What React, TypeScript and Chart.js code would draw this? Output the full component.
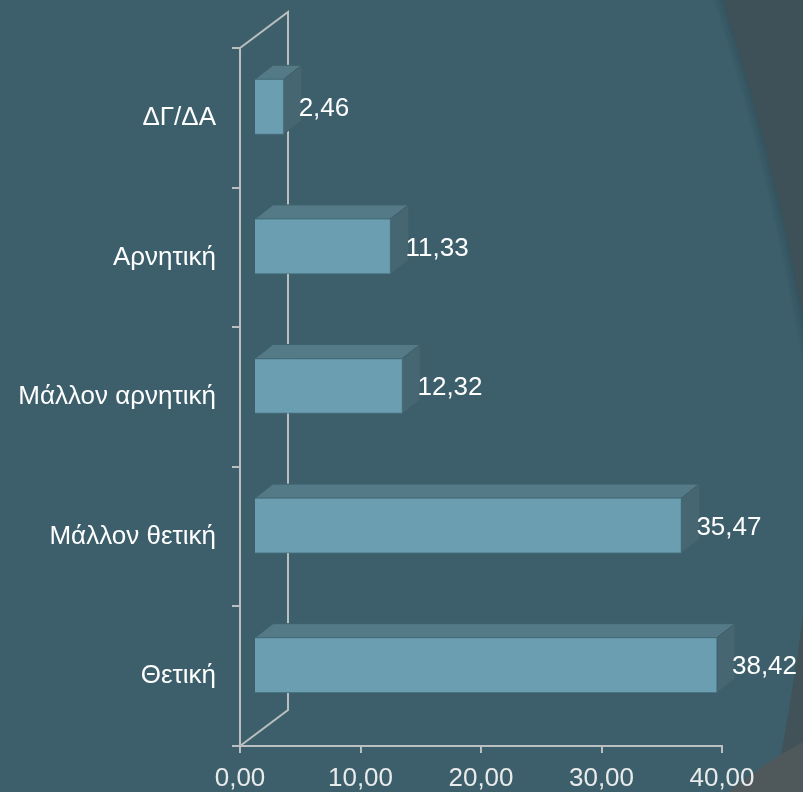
import React, { useEffect, useRef } from 'react';
import { Chart, registerables } from 'chart.js';

Chart.register(...registerables);

// ---- data ----
const categories = ['ΔΓ/ΔΑ', 'Αρνητική', 'Μάλλον αρνητική', 'Μάλλον θετική', 'Θετική'];
const values = [2.46, 11.33, 12.32, 35.47, 38.42];
const xTickValues = [0, 10, 20, 30, 40];

const fmt = (v: number) => v.toFixed(2).replace('.', ',');

// ---- style ----
const W = 803;
const H = 792;
const FONT = "'Liberation Sans', Arial, sans-serif";
const FONT_SIZE = 26;
const BG = '#3c5f6b';
const GRAY_BG = '#3e5058';
const AXIS_COLOR = '#bcbfbf';
const FRONT = '#6b9eb0';
const FRONT_EDGE = '#4b7482';
const TOP_FACE = '#537a86';
const SIDE_FACE = '#466771';
const FACE_EDGE = '#3f616c';
const WALL_DX = 48;
const WALL_DY = -36;
const BAR_SHIFT_X = 14;
const BAR_SHIFT_Y = -11;
const BAR_DX = 18;
const BAR_DY = -14;

const backgroundPlugin = {
  id: 'bgDecor',
  beforeDraw(chart: any) {
    const { ctx } = chart;
    ctx.save();
    ctx.fillStyle = BG;
    ctx.fillRect(0, 0, W, H);
    // large arc, top-right
    const cx = -1709, cy = 784, r = 2555;
    ctx.beginPath();
    ctx.rect(0, 0, W, H);
    ctx.arc(cx, cy, r, 0, Math.PI * 2);
    ctx.fillStyle = GRAY_BG;
    ctx.fill('evenodd');
    // shadow just inside the arc
    ctx.save();
    ctx.beginPath();
    ctx.arc(cx, cy, r, 0, Math.PI * 2);
    ctx.clip();
    for (let i = 0; i < 6; i++) {
      ctx.beginPath();
      ctx.arc(cx, cy, r - i * 1.5, 0, Math.PI * 2);
      ctx.strokeStyle = `rgba(35,60,70,${0.22 * (1 - i / 6)})`;
      ctx.lineWidth = 2;
      ctx.stroke();
    }
    ctx.restore();
    // bottom-right shapes
    ctx.beginPath();
    ctx.moveTo(803, 615);
    ctx.quadraticCurveTo(792, 700, 774, 792);
    ctx.lineTo(803, 792);
    ctx.closePath();
    ctx.fillStyle = '#415259';
    ctx.fill();
    ctx.beginPath();
    ctx.moveTo(728, 792);
    ctx.quadraticCurveTo(765, 762, 803, 742);
    ctx.lineTo(803, 792);
    ctx.closePath();
    ctx.fillStyle = '#4f585b';
    ctx.fill();
    ctx.restore();
  },
};

const threeDPlugin = {
  id: 'threeD',
  beforeDatasetsDraw(chart: any) {
    const { ctx, chartArea } = chart;
    const x0 = chart.scales.x.getPixelForValue(0);
    const top = chartArea.top;
    const bottom = chartArea.bottom;
    ctx.save();
    ctx.strokeStyle = AXIS_COLOR;
    ctx.lineWidth = 2;
    ctx.beginPath();
    ctx.moveTo(x0, top);
    ctx.lineTo(x0 + WALL_DX, top + WALL_DY);
    ctx.lineTo(x0 + WALL_DX, bottom + WALL_DY);
    ctx.lineTo(x0, bottom);
    ctx.stroke();
    ctx.restore();

    const meta = chart.getDatasetMeta(0);
    ctx.save();
    ctx.translate(BAR_SHIFT_X, BAR_SHIFT_Y);
    ctx.lineWidth = 1;
    ctx.strokeStyle = FACE_EDGE;
    meta.data.forEach((el: any) => {
      const { x, y, base, height } = el.getProps(['x', 'y', 'base', 'height'], true);
      const t = y - height / 2;
      const b = y + height / 2;
      ctx.beginPath();
      ctx.moveTo(base, t);
      ctx.lineTo(base + BAR_DX, t + BAR_DY);
      ctx.lineTo(x + BAR_DX, t + BAR_DY);
      ctx.lineTo(x, t);
      ctx.closePath();
      ctx.fillStyle = TOP_FACE;
      ctx.fill();
      ctx.stroke();
      ctx.beginPath();
      ctx.moveTo(x, t);
      ctx.lineTo(x + BAR_DX, t + BAR_DY);
      ctx.lineTo(x + BAR_DX, b + BAR_DY);
      ctx.lineTo(x, b);
      ctx.closePath();
      ctx.fillStyle = SIDE_FACE;
      ctx.fill();
      ctx.stroke();
    });
    // remain translated so the library draws the front faces shifted
  },
  afterDatasetsDraw(chart: any) {
    const { ctx } = chart;
    ctx.restore();
    const meta = chart.getDatasetMeta(0);
    ctx.save();
    ctx.fillStyle = '#ffffff';
    ctx.font = `${FONT_SIZE}px ${FONT}`;
    ctx.textAlign = 'left';
    ctx.textBaseline = 'middle';
    meta.data.forEach((el: any, i: number) => {
      const { x, y } = el.getProps(['x', 'y'], true);
      ctx.fillText(fmt(values[i]), x + BAR_SHIFT_X + 15, y + BAR_SHIFT_Y + 2);
    });
    ctx.restore();
  },
};

export default function App() {
  const ref = useRef<HTMLCanvasElement | null>(null);

  useEffect(() => {
    if (!ref.current) return;
    const chart = new Chart(ref.current, {
      type: 'bar',
      data: {
        labels: categories,
        datasets: [
          {
            data: values,
            backgroundColor: FRONT,
            borderColor: FRONT_EDGE,
            borderWidth: 1,
            barThickness: 55,
          },
        ],
      },
      options: {
        indexAxis: 'y',
        animation: false,
        responsive: false,
        devicePixelRatio: 1,
        events: [],
        layout: { padding: { top: 48, right: 81, left: 0, bottom: 0 } },
        plugins: {
          legend: { display: false },
          tooltip: { enabled: false },
          title: { display: false },
        },
        scales: {
          x: {
            type: 'linear',
            min: 0,
            max: 40,
            afterFit: (s: any) => {
              s.height = 46;
            },
            afterBuildTicks: (s: any) => {
              s.ticks = xTickValues.map((v) => ({ value: v }));
            },
            ticks: {
              color: '#e9eaea',
              font: { family: FONT, size: FONT_SIZE },
              padding: 10,
              maxRotation: 0,
              callback: (v: any) => fmt(Number(v)),
            },
            grid: {
              drawOnChartArea: false,
              drawTicks: true,
              tickLength: 7,
              color: AXIS_COLOR,
              lineWidth: 2,
            },
            border: { display: true, color: AXIS_COLOR, width: 2 },
          },
          y: {
            type: 'category',
            afterFit: (s: any) => {
              s.width = 240;
            },
            ticks: {
              color: '#ffffff',
              font: { family: FONT, size: FONT_SIZE },
              padding: 16,
            },
            grid: {
              offset: true,
              drawOnChartArea: false,
              drawTicks: true,
              tickLength: 8,
              color: AXIS_COLOR,
              lineWidth: 2,
            },
            border: { display: true, color: AXIS_COLOR, width: 2 },
          },
        },
      },
      plugins: [backgroundPlugin, threeDPlugin],
    } as any);
    return () => chart.destroy();
  }, []);

  return (
    <div style={{ position: 'absolute', left: 0, top: 0, width: W, height: H, background: BG }}>
      <canvas ref={ref} width={W} height={H} style={{ display: 'block', width: W, height: H }} />
    </div>
  );
}
